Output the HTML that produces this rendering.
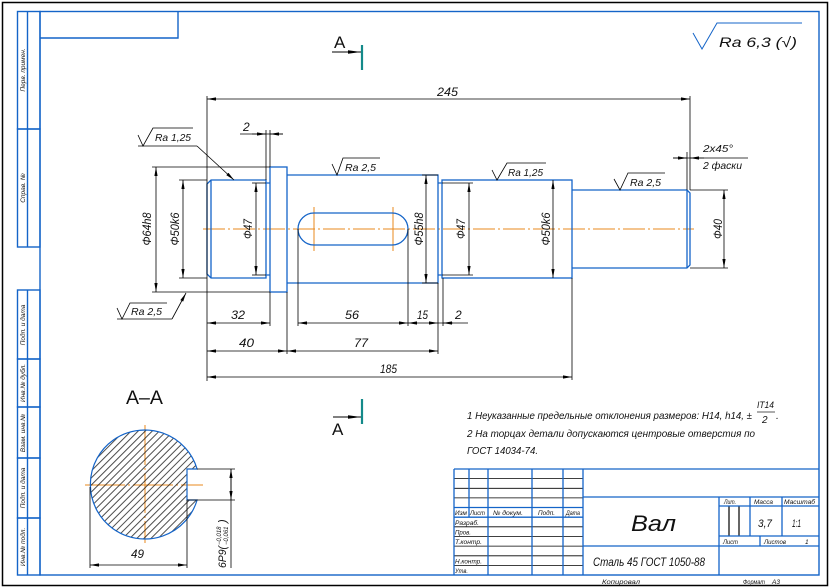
<!DOCTYPE html>
<html><head><meta charset="utf-8"><style>
html,body{margin:0;padding:0;background:#fff;}
svg{display:block;}
text{font-family:"Liberation Sans","DejaVu Sans",sans-serif;font-style:italic;fill:#111;}
.up{font-style:normal;}
</style></head><body>
<svg width="830" height="588" viewBox="0 0 830 588" xmlns="http://www.w3.org/2000/svg">
<defs>
<marker id="ar" markerUnits="userSpaceOnUse" markerWidth="10" markerHeight="4" refX="9" refY="2" orient="auto-start-reverse"><path d="M0,0.4 L9,2 L0,3.6z" fill="#000"/></marker>
<marker id="ar2" markerUnits="userSpaceOnUse" markerWidth="14" markerHeight="5" refX="13" refY="2.5" orient="auto"><path d="M0,0.8 L13,2.5 L0,4.2z" fill="#000"/></marker>
<pattern id="hatch" width="5" height="5" patternUnits="userSpaceOnUse" patternTransform="rotate(-45)"><line x1="0" y1="2.5" x2="5" y2="2.5" stroke="#000" stroke-width="0.7"/></pattern>
</defs>
<rect width="830" height="588" fill="#fff"/>
<!-- outer frame -->
<rect x="2.5" y="2.5" width="825" height="583" fill="none" stroke="#000" stroke-width="1.5"/>
<g fill="none" stroke="#1464c8" stroke-width="1.4">
<rect x="40" y="11.5" width="779" height="563.5"/>
<path d="M40,38 H178 V11.5"/>
<!-- left strip -->
<rect x="17.5" y="11.5" width="22.5" height="117.5"/>
<rect x="17.5" y="129" width="22.5" height="118"/>
<line x1="27.5" y1="11.5" x2="27.5" y2="247"/>
<rect x="17.5" y="290" width="22.5" height="69"/>
<rect x="17.5" y="359" width="22.5" height="48"/>
<rect x="17.5" y="407" width="22.5" height="51"/>
<rect x="17.5" y="458" width="22.5" height="60"/>
<rect x="17.5" y="518" width="22.5" height="57"/>
<line x1="27.5" y1="290" x2="27.5" y2="575"/>
</g>
<g font-size="6.5">
<text transform="translate(25,70) rotate(-90)" text-anchor="middle">Перв. примен.</text>
<text transform="translate(25,188) rotate(-90)" text-anchor="middle">Справ. №</text>
<text transform="translate(25,325) rotate(-90)" text-anchor="middle">Подп. и дата</text>
<text transform="translate(25,383) rotate(-90)" text-anchor="middle">Инв.№ дубл.</text>
<text transform="translate(25,433) rotate(-90)" text-anchor="middle">Взам. инв.№</text>
<text transform="translate(25,488) rotate(-90)" text-anchor="middle">Подп. и дата</text>
<text transform="translate(25,547) rotate(-90)" text-anchor="middle">Инв.№ подл.</text>
</g>

<!-- Ra 6,3 top right -->
<path d="M693,33 L702,49 L717,23 H802" fill="none" stroke="#1464c8" stroke-width="1"/>
<text x="719" y="47" font-size="14" textLength="78" lengthAdjust="spacingAndGlyphs">Ra 6,3 (√)</text>

<!-- section marks -->
<text x="334" y="48" font-size="17" class="up">A</text>
<line x1="332" y1="52" x2="361" y2="52" stroke="#000" stroke-width="0.9" marker-end="url(#ar2)"/>
<line x1="362" y1="45" x2="362" y2="70" stroke="#148a8a" stroke-width="2.2"/>
<text x="332" y="435" font-size="17" class="up">A</text>
<line x1="333" y1="417" x2="361" y2="417" stroke="#000" stroke-width="0.9" marker-end="url(#ar2)"/>
<line x1="362" y1="399" x2="362" y2="424" stroke="#148a8a" stroke-width="2.2"/>

<!-- centerlines -->
<g stroke="#e8891e" stroke-width="1" fill="none" stroke-dasharray="22,3,2,3">
<line x1="203" y1="229" x2="694" y2="229"/>
<line x1="314" y1="207" x2="314" y2="251" stroke-dasharray="none"/>
<line x1="393" y1="207" x2="393" y2="251" stroke-dasharray="none"/>
<line x1="85" y1="485" x2="203" y2="485" stroke-dasharray="40,3,2,3"/>
<line x1="145" y1="425" x2="145" y2="543" stroke-dasharray="40,3,2,3"/>
</g>

<!-- shaft contour -->
<g fill="none" stroke="#1464c8" stroke-width="1.3">
<path d="M211,180 H266 V278 H211 L207,274 V184 Z"/>
<line x1="211" y1="180" x2="211" y2="278"/>
<path d="M266,183 H270 M266,275 H270"/>
<rect x="270" y="167" width="17" height="125"/>
<path d="M287,175 H438 V283 H287"/>
<path d="M438,183 H442 M438,275 H442"/>
<rect x="442" y="180" width="130" height="98"/>
<path d="M572,190 H687 L690,193 V265 L687,268 H572"/>
<line x1="687" y1="190" x2="687" y2="268"/>
<rect x="298" y="213" width="110" height="32" rx="16" ry="16"/>
</g>

<!-- dimensions -->
<g stroke="#000" stroke-width="0.8" fill="none">
<!-- extension lines -->
<line x1="207" y1="96" x2="207" y2="381"/>
<line x1="690" y1="96" x2="690" y2="190"/>
<line x1="687" y1="152" x2="687" y2="190"/>
<line x1="266" y1="130" x2="266" y2="180"/>
<line x1="270" y1="130" x2="270" y2="167"/>
<line x1="152" y1="167" x2="270" y2="167"/>
<line x1="152" y1="292" x2="270" y2="292"/>
<line x1="179" y1="180" x2="207" y2="180"/>
<line x1="179" y1="278" x2="207" y2="278"/>
<line x1="252" y1="183" x2="266" y2="183"/>
<line x1="252" y1="275" x2="266" y2="275"/>
<line x1="422" y1="175" x2="438" y2="175"/>
<line x1="422" y1="283" x2="438" y2="283"/>
<line x1="442" y1="183" x2="473" y2="183"/>
<line x1="442" y1="275" x2="473" y2="275"/>
<line x1="690" y1="190" x2="728" y2="190"/>
<line x1="690" y1="268" x2="728" y2="268"/>
<line x1="270" y1="292" x2="270" y2="326"/>
<line x1="287" y1="292" x2="287" y2="354"/>
<line x1="298" y1="229" x2="298" y2="326"/>
<line x1="408" y1="229" x2="408" y2="326"/>
<line x1="438" y1="283" x2="438" y2="354"/>
<line x1="443" y1="278" x2="443" y2="326"/>
<line x1="572" y1="278" x2="572" y2="380"/>
<!-- dim lines -->
<line x1="207" y1="99" x2="690" y2="99" marker-start="url(#ar)" marker-end="url(#ar)"/>
<line x1="240" y1="134" x2="283" y2="134"/>
<line x1="252" y1="134" x2="266" y2="134" marker-end="url(#ar)"/>
<line x1="283" y1="134" x2="270" y2="134" marker-end="url(#ar)"/>
<line x1="156" y1="167" x2="156" y2="292" marker-start="url(#ar)" marker-end="url(#ar)"/>
<line x1="183" y1="180" x2="183" y2="278" marker-start="url(#ar)" marker-end="url(#ar)"/>
<line x1="256" y1="183" x2="256" y2="275" marker-start="url(#ar)" marker-end="url(#ar)"/>
<line x1="426" y1="175" x2="426" y2="283" marker-start="url(#ar)" marker-end="url(#ar)"/>
<line x1="469" y1="183" x2="469" y2="275" marker-start="url(#ar)" marker-end="url(#ar)"/>
<line x1="553" y1="180" x2="553" y2="278" marker-start="url(#ar)" marker-end="url(#ar)"/>
<line x1="724" y1="190" x2="724" y2="268" marker-start="url(#ar)" marker-end="url(#ar)"/>
<line x1="673" y1="158" x2="748" y2="158"/>
<line x1="673" y1="158" x2="687" y2="158" marker-end="url(#ar)"/>
<line x1="704" y1="158" x2="690" y2="158" marker-end="url(#ar)"/>
<line x1="207" y1="323" x2="270" y2="323" marker-start="url(#ar)" marker-end="url(#ar)"/>
<line x1="298" y1="323" x2="408" y2="323" marker-start="url(#ar)" marker-end="url(#ar)"/>
<line x1="408" y1="323" x2="438" y2="323" marker-start="url(#ar)" marker-end="url(#ar)"/>
<line x1="438" y1="323" x2="468" y2="323"/>
<line x1="453" y1="323" x2="443" y2="323" marker-end="url(#ar)"/>
<line x1="207" y1="351" x2="287" y2="351" marker-start="url(#ar)" marker-end="url(#ar)"/>
<line x1="287" y1="351" x2="438" y2="351" marker-start="url(#ar)" marker-end="url(#ar)"/>
<line x1="207" y1="377" x2="572" y2="377" marker-start="url(#ar)" marker-end="url(#ar)"/>
<!-- roughness signs -->
<path d="M138,135 L143,146 L153,128 H193"/>
<line x1="138" y1="146" x2="197" y2="146"/>
<line x1="197" y1="146" x2="234" y2="180" marker-end="url(#ar)"/>
<path d="M332,164 L337,175 L343,158 H380"/>
<path d="M492,170 L497,180 L507,163 H546"/>
<path d="M614,179 L620,190 L628,173 H665"/>
<path d="M117,308 L122,319 L130,303 H167"/>
<line x1="117" y1="319" x2="172" y2="319"/>
<line x1="172" y1="319" x2="186" y2="293" marker-end="url(#ar)"/>
</g>

<!-- dimension texts -->
<g font-size="12">
<text x="437" y="96" textLength="21" lengthAdjust="spacingAndGlyphs">245</text>
<text x="243" y="131">2</text>
<text x="231" y="319" textLength="14" lengthAdjust="spacingAndGlyphs">32</text>
<text x="345" y="319" textLength="14" lengthAdjust="spacingAndGlyphs">56</text>
<text x="417" y="319" textLength="11" lengthAdjust="spacingAndGlyphs">15</text>
<text x="455" y="319">2</text>
<text x="239" y="347" textLength="15" lengthAdjust="spacingAndGlyphs">40</text>
<text x="354" y="347" textLength="14" lengthAdjust="spacingAndGlyphs">77</text>
<text x="380" y="373" textLength="17" lengthAdjust="spacingAndGlyphs">185</text>
<text x="131" y="558" textLength="13" lengthAdjust="spacingAndGlyphs">49</text>
<text transform="translate(151,229) rotate(-90)" text-anchor="middle" textLength="33" lengthAdjust="spacingAndGlyphs">Φ64h8</text>
<text transform="translate(179,229) rotate(-90)" text-anchor="middle" textLength="33" lengthAdjust="spacingAndGlyphs">Φ50k6</text>
<text transform="translate(252,229) rotate(-90)" text-anchor="middle" textLength="20" lengthAdjust="spacingAndGlyphs">Φ47</text>
<text transform="translate(423,229) rotate(-90)" text-anchor="middle" textLength="33" lengthAdjust="spacingAndGlyphs">Φ55h8</text>
<text transform="translate(465,229) rotate(-90)" text-anchor="middle" textLength="20" lengthAdjust="spacingAndGlyphs">Φ47</text>
<text transform="translate(550,229) rotate(-90)" text-anchor="middle" textLength="33" lengthAdjust="spacingAndGlyphs">Φ50k6</text>
<text transform="translate(722,229) rotate(-90)" text-anchor="middle" textLength="20" lengthAdjust="spacingAndGlyphs">Φ40</text>
</g>
<g font-size="10.5">
<text x="155" y="141" textLength="36" lengthAdjust="spacingAndGlyphs">Ra 1,25</text>
<text x="345" y="171" textLength="31" lengthAdjust="spacingAndGlyphs">Ra 2,5</text>
<text x="508" y="176" textLength="35" lengthAdjust="spacingAndGlyphs">Ra 1,25</text>
<text x="630" y="186" textLength="31" lengthAdjust="spacingAndGlyphs">Ra 2,5</text>
<text x="131" y="315" textLength="31" lengthAdjust="spacingAndGlyphs">Ra 2,5</text>
<text x="703" y="152" textLength="30" lengthAdjust="spacingAndGlyphs">2x45°</text>
<text x="703" y="169" textLength="39" lengthAdjust="spacingAndGlyphs">2 фаски</text>
</g>

<!-- section A-A -->
<text x="126" y="404" font-size="19" class="up" textLength="37" lengthAdjust="spacingAndGlyphs">A–A</text>
<path d="M197.1,469 A54.5,54.5 0 1 0 197.1,500 L187,500 L187,469 Z" fill="url(#hatch)" stroke="#1464c8" stroke-width="1.2"/>
<g stroke="#000" stroke-width="0.8" fill="none">
<line x1="197" y1="469" x2="235" y2="469"/>
<line x1="187" y1="500" x2="235" y2="500"/>
<line x1="231" y1="469" x2="231" y2="568"/>
<line x1="231" y1="469" x2="231" y2="500" marker-start="url(#ar)" marker-end="url(#ar)"/>
<line x1="90" y1="487" x2="90" y2="568"/>
<line x1="187" y1="500" x2="187" y2="568"/>
<line x1="90" y1="565" x2="187" y2="565" marker-start="url(#ar)" marker-end="url(#ar)"/>
</g>
<g transform="translate(226,568) rotate(-90)">
<text x="0" y="0" font-size="11" textLength="22" lengthAdjust="spacingAndGlyphs">6P9(</text>
<text x="23" y="-5" font-size="6">−0,018</text>
<text x="23" y="2" font-size="6">−0,061</text>
<text x="45" y="0" font-size="11">)</text>
</g>

<!-- notes -->
<g font-size="10.5" fill="#222">
<text x="467" y="419" textLength="285" lengthAdjust="spacingAndGlyphs">1 Неуказанные предельные отклонения размеров: H14, h14, ±</text>
<text x="757" y="408" font-size="9" textLength="17" lengthAdjust="spacingAndGlyphs">IT14</text>
<line x1="757" y1="412" x2="775" y2="412" stroke="#222" stroke-width="0.8"/>
<text x="762" y="423" font-size="10">2</text>
<text x="776" y="419">.</text>
<text x="467" y="437" textLength="288" lengthAdjust="spacingAndGlyphs">2 На торцах детали допускаются центровые отверстия по</text>
<text x="467" y="454" textLength="71" lengthAdjust="spacingAndGlyphs">ГОСТ 14034-74.</text>
</g>

<!-- title block -->
<g stroke="#000" stroke-width="0.8" fill="none">
<line x1="454" y1="478.6" x2="583" y2="478.6"/>
<line x1="454" y1="488.3" x2="583" y2="488.3"/>
<line x1="454" y1="497.9" x2="583" y2="497.9"/>
<line x1="454" y1="526.8" x2="583" y2="526.8"/>
<line x1="454" y1="536.5" x2="583" y2="536.5"/>
<line x1="454" y1="546.1" x2="583" y2="546.1"/>
<line x1="454" y1="555.8" x2="583" y2="555.8"/>
<line x1="454" y1="565.4" x2="583" y2="565.4"/>
<line x1="729" y1="506" x2="729" y2="536" stroke-width="1.2"/>
<line x1="739" y1="506" x2="739" y2="536" stroke-width="1.2"/>
</g>
<g stroke="#1464c8" stroke-width="1.3" fill="none">
<line x1="454" y1="469" x2="819" y2="469"/>
<line x1="454" y1="469" x2="454" y2="575"/>
<line x1="469" y1="469" x2="469" y2="517"/>
<line x1="488" y1="469" x2="488" y2="575"/>
<line x1="532" y1="469" x2="532" y2="575"/>
<line x1="563" y1="469" x2="563" y2="575"/>
<line x1="583" y1="469" x2="583" y2="575"/>
<line x1="454" y1="507.5" x2="583" y2="507.5"/>
<line x1="454" y1="517.2" x2="583" y2="517.2"/>
<line x1="583" y1="497" x2="819" y2="497"/>
<line x1="583" y1="546" x2="819" y2="546"/>
<line x1="719" y1="497" x2="719" y2="575"/>
<line x1="719" y1="506" x2="819" y2="506"/>
<line x1="719" y1="536" x2="819" y2="536"/>
<line x1="750" y1="497" x2="750" y2="536"/>
<line x1="782" y1="497" x2="782" y2="536"/>
<line x1="760" y1="536" x2="760" y2="546"/>
</g>
<g font-size="6.5">
<text x="455" y="515" textLength="12" lengthAdjust="spacingAndGlyphs">Изм</text>
<text x="470" y="515" textLength="15" lengthAdjust="spacingAndGlyphs">Лист</text>
<text x="493" y="515" textLength="30" lengthAdjust="spacingAndGlyphs">№ докум.</text>
<text x="538" y="515" textLength="17" lengthAdjust="spacingAndGlyphs">Подп.</text>
<text x="566" y="515" textLength="14" lengthAdjust="spacingAndGlyphs">Дата</text>
<text x="455" y="525" textLength="24" lengthAdjust="spacingAndGlyphs">Разраб.</text>
<text x="455" y="534.5" textLength="16" lengthAdjust="spacingAndGlyphs">Пров.</text>
<text x="455" y="544" textLength="27" lengthAdjust="spacingAndGlyphs">Т.контр.</text>
<text x="455" y="563.5" textLength="27" lengthAdjust="spacingAndGlyphs">Н.контр.</text>
<text x="455" y="573" textLength="13" lengthAdjust="spacingAndGlyphs">Утв.</text>
<text x="724" y="504" textLength="12" lengthAdjust="spacingAndGlyphs">Лит.</text>
<text x="754" y="504" textLength="19" lengthAdjust="spacingAndGlyphs">Масса</text>
<text x="784" y="504" textLength="31" lengthAdjust="spacingAndGlyphs">Масштаб</text>
<text x="723" y="544" textLength="15" lengthAdjust="spacingAndGlyphs">Лист</text>
<text x="764" y="544" textLength="22" lengthAdjust="spacingAndGlyphs">Листов</text>
<text x="805" y="544">1</text>
<text x="602" y="584" textLength="38" lengthAdjust="spacingAndGlyphs">Копировал</text>
<text x="743" y="584" textLength="22" lengthAdjust="spacingAndGlyphs">Формат</text>
<text x="772" y="584">A3</text>
</g>
<text x="631" y="531" font-size="22" textLength="45" lengthAdjust="spacingAndGlyphs">Вал</text>
<text x="593" y="566" font-size="12" textLength="112" lengthAdjust="spacingAndGlyphs">Сталь 45 ГОСТ 1050-88</text>
<text x="758" y="527" font-size="11" textLength="14" lengthAdjust="spacingAndGlyphs">3,7</text>
<text x="792" y="527" font-size="11" textLength="9" lengthAdjust="spacingAndGlyphs">1:1</text>
</svg>
</body></html>
